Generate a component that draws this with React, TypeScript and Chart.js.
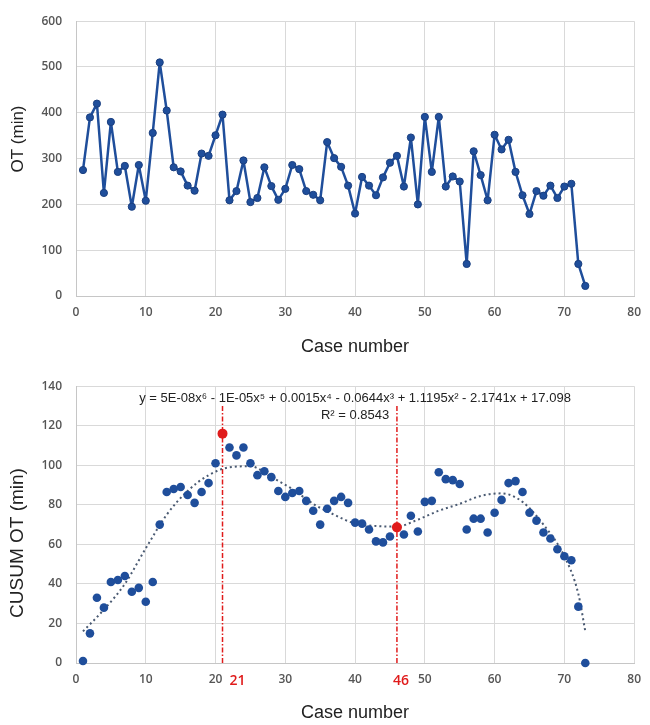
import React, { useEffect, useRef } from "react";
import { Chart, registerables } from "chart.js";

Chart.register(...registerables);

// ---------- DATA ----------
const otValues = [
  275, 390, 420, 225, 380, 271, 284, 195, 286, 208, 356, 510, 405, 281, 272, 241, 230, 311, 306, 351,
  396, 209, 229, 296, 205, 214, 281, 240, 210, 234, 286, 277, 229, 221, 209, 336, 301, 282, 241, 180,
  260, 241, 220, 259, 291, 306, 239, 346, 200, 391, 271, 391, 239, 261, 250, 70, 316, 264, 209, 352,
  320, 341, 271, 220, 179, 229, 219, 241, 214, 239, 245, 70, 22,
];

const cusumValues = [
  1, 15, 33, 28, 41, 42, 44, 36, 38, 31, 41, 70, 86.5, 88, 89, 85, 81, 86.5, 91, 101,
  116, 109, 105, 109, 101, 95, 97, 94, 87, 84, 86, 87, 82, 77, 70, 78, 82, 84, 81, 71,
  70.5, 67.5, 61.5, 61, 64, 68.6, 65, 74.5, 66.5, 81.5, 82, 96.5, 93, 92.5, 90.5, 67.5, 73, 73, 66, 76,
  82.5, 91, 92, 86.5, 76, 72, 66, 63, 57.5, 54, 52, 28.5, 0,
];

const caseNumbers = otValues.map((_, i) => i + 1);

// polynomial trend line
const trendX = [1, 4, 7, 10, 13, 16, 19, 22, 25, 28, 31, 34, 37, 40, 43, 46, 49, 52, 55, 58, 61, 64, 67, 70, 72, 73];
const trendY = [16, 27, 40, 58, 75, 87, 95, 99, 99.5, 94, 88, 80.5, 75, 70.5, 69.3, 69, 72.5, 77, 80.5, 84.5, 85.8, 81.5, 70, 54, 35, 16];

const changePoints = [21, 46];
const changeLineTop = 131;

const xTicks = { min: 0, max: 80, step: 10 };
const otTicks = { min: 0, max: 600, step: 100 };
const cusumTicks = { min: 0, max: 140, step: 20 };

const equationText = "y = 5E-08x\u2076 - 1E-05x\u2075 + 0.0015x\u2074 - 0.0644x\u00B3 + 1.1195x\u00B2 - 2.1741x + 17.098";
const r2Text = "R\u00B2 = 0.8543";

// ---------- STYLE ----------
const BLUE = "#1f4e9b";
const RED = "#e01b1b";
const GRID = "#d9d9d9";
const TICK_COLOR = "#555555";
const TITLE_COLOR = "#222222";
const FAMILY = "'Liberation Sans', Arial, sans-serif";
const TICK_FONT = { family: "'Open Sans', sans-serif", size: 12, weight: "600" as const };

type Extra = {
  yTitle: string;
  yTitleX: number;
  yTitleY: number;
  yTitleSize: number;
  drawAnnotations?: boolean;
};

function makePlugin(extra: Extra) {
  return {
    id: "extraText",
    afterDraw(chart: any) {
      const ctx = chart.ctx;
      ctx.save();
      ctx.fillStyle = TITLE_COLOR;
      ctx.font = `${extra.yTitleSize}px ${FAMILY}`;
      ctx.textAlign = "center";
      ctx.textBaseline = "middle";
      ctx.translate(extra.yTitleX, extra.yTitleY);
      ctx.rotate(-Math.PI / 2);
      ctx.fillText(extra.yTitle, 0, 0);
      ctx.restore();

      if (extra.drawAnnotations) {
        const area = chart.chartArea;
        const xs = chart.scales.x;
        const cx = (area.left + area.right) / 2;
        ctx.save();
        ctx.fillStyle = TITLE_COLOR;
        ctx.font = `13px ${FAMILY}`;
        ctx.textAlign = "center";
        ctx.textBaseline = "middle";
        ctx.fillText(equationText, cx, area.top + 12);
        ctx.fillText(r2Text, cx, area.top + 29);
        ctx.fillStyle = RED;
        ctx.font = `600 14px 'Open Sans', sans-serif`;
        ctx.fillText(String(changePoints[0]), xs.getPixelForValue(changePoints[0]) + 15, area.bottom + 18);
        ctx.fillText(String(changePoints[1]), xs.getPixelForValue(changePoints[1]) + 4, area.bottom + 18);
        ctx.restore();
      }
    },
  };
}

function xScale(height: number, titlePadBottom: number) {
  return {
    type: "linear" as const,
    min: xTicks.min,
    max: xTicks.max,
    ticks: { stepSize: xTicks.step, font: TICK_FONT, color: TICK_COLOR, padding: 9 },
    grid: { color: GRID, drawTicks: false, lineWidth: 1 },
    border: { color: "#c6c6c6" },
    title: {
      display: true,
      text: "Case number",
      color: TITLE_COLOR,
      font: { family: FAMILY, size: 18 },
      padding: { top: 0, bottom: titlePadBottom },
    },
    afterFit: (s: any) => {
      s.height = height;
    },
  };
}

function yScale(t: { min: number; max: number; step: number }) {
  return {
    min: t.min,
    max: t.max,
    ticks: { stepSize: t.step, font: TICK_FONT, color: TICK_COLOR, padding: 14 },
    grid: { color: GRID, drawTicks: false, lineWidth: 1 },
    border: { color: "#c6c6c6" },
    afterFit: (s: any) => {
      s.width = 76;
    },
  };
}

function topConfig(): any {
  return {
    type: "line",
    data: {
      datasets: [
        {
          data: caseNumbers.map((x, i) => ({ x, y: otValues[i] })),
          borderColor: BLUE,
          backgroundColor: BLUE,
          borderWidth: 2.5,
          borderJoinStyle: "round",
          borderCapStyle: "round",
          pointRadius: 3.6,
          pointBackgroundColor: BLUE,
          pointBorderColor: "#1a3f80",
          pointBorderWidth: 1,
          tension: 0,
        },
      ],
    },
    options: {
      animation: false,
      responsive: false,
      maintainAspectRatio: false,
      layout: { padding: { left: 0, right: 10, top: 16, bottom: 0 } },
      plugins: { legend: { display: false }, tooltip: { enabled: false } },
      scales: { x: xScale(69, 7), y: yScale(otTicks) },
    },
    plugins: [makePlugin({ yTitle: "OT (min)", yTitleX: 18, yTitleY: 139, yTitleSize: 17 })],
  };
}

function bottomConfig(): any {
  const pointColors = caseNumbers.map((c) => (changePoints.includes(c) ? RED : BLUE));
  const pointRadii = caseNumbers.map((c) => (changePoints.includes(c) ? 5 : 4.3));
  const vlines = changePoints.map((c) => ({
    data: [
      { x: c, y: cusumTicks.min },
      { x: c, y: changeLineTop },
    ],
    borderColor: RED,
    borderWidth: 1.5,
    borderDash: [5, 2, 1.5, 2],
    pointRadius: 0,
    showLine: true,
    tension: 0,
  }));
  return {
    type: "scatter",
    data: {
      datasets: [
        {
          data: caseNumbers.map((x, i) => ({ x, y: cusumValues[i] })),
          pointRadius: pointRadii,
          pointBackgroundColor: pointColors,
          pointBorderColor: pointColors,
          pointBorderWidth: 0,
          showLine: false,
          clip: false,
        },
        {
          data: trendX.map((x, i) => ({ x, y: trendY[i] })),
          borderColor: "#4a5a72",
          borderWidth: 2,
          borderDash: [2, 3],
          pointRadius: 0,
          showLine: true,
          tension: 0.4,
          cubicInterpolationMode: "monotone",
        },
        ...vlines,
      ],
    },
    options: {
      animation: false,
      responsive: false,
      maintainAspectRatio: false,
      layout: { padding: { left: 0, right: 10, top: 16, bottom: 0 } },
      plugins: { legend: { display: false }, tooltip: { enabled: false } },
      scales: { x: xScale(62, 1), y: yScale(cusumTicks) },
    },
    plugins: [
      makePlugin({ yTitle: "CUSUM OT (min)", yTitleX: 18, yTitleY: 178, yTitleSize: 19, drawAnnotations: true }),
    ],
  };
}

function ChartCanvas({ top, height, build }: { top: number; height: number; build: () => any }) {
  const ref = useRef<HTMLCanvasElement | null>(null);
  useEffect(() => {
    if (!ref.current) return;
    const chart = new Chart(ref.current, build());
    return () => chart.destroy();
  }, []);
  return (
    <canvas
      ref={ref}
      width={650}
      height={height}
      style={{ position: "absolute", left: 0, top, width: 650, height, display: "block" }}
    />
  );
}

export default function App() {
  return (
    <div style={{ position: "absolute", left: 0, top: 0, width: 650, height: 725, background: "#fff" }}>
      <ChartCanvas top={0} height={365} build={topConfig} />
      <ChartCanvas top={365} height={360} build={bottomConfig} />
    </div>
  );
}
